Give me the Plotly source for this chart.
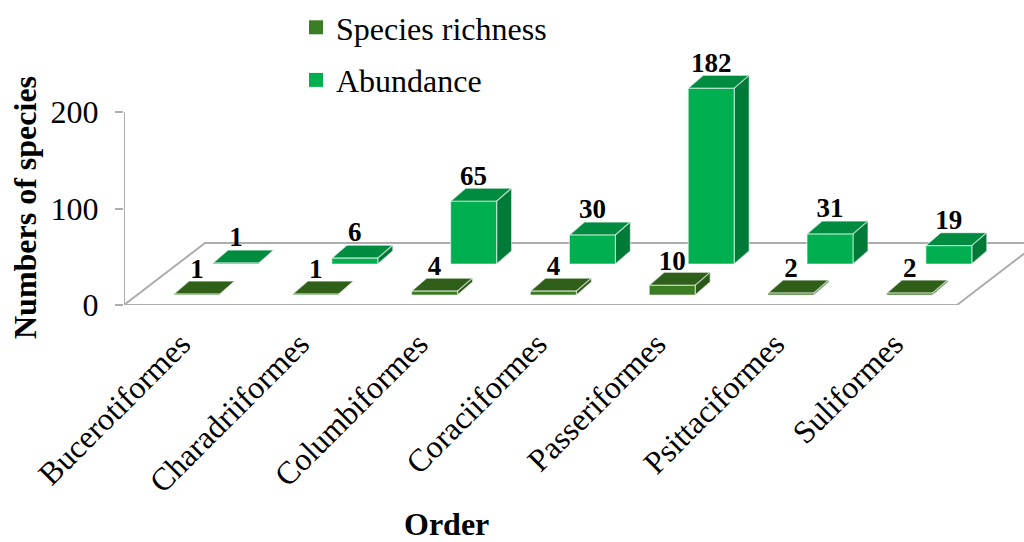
import plotly.graph_objects as go

# Bird orders and counts per order
orders = ["Bucerotiformes", "Charadriiformes", "Columbiformes", "Coraciiformes",
          "Passeriformes", "Psittaciformes", "Suliformes"]
species_richness = [1, 1, 4, 4, 10, 2, 2]
abundance = [1, 6, 65, 30, 182, 31, 19]
y_ticks = [0, 100, 200]

WIDTH, HEIGHT = 1024, 542
LEFT, TICK_TOP, RIGHT_EDGE, FLOOR_Y = 124, 112, 1024, 305
PLOT_TOP = 40
SERIF = "Liberation Serif"

# Conversion between pixels and axis units for the oblique projection
PX_PER_CAT = 118.8
FIRST_CAT_PX = 190.0
PX_PER_VAL = (FLOOR_Y - TICK_TOP) / 200.0
cx = lambda px: px / PX_PER_CAT
cy = lambda px: px / PX_PER_VAL

BAR_W = cx(46)
BAR_DX = cx(15)
BAR_DY = cy(13)
FLOOR_DX = cx(81)
FLOOR_DY = cy(62)
EDGE = "rgba(255,255,255,0.55)"
GRID = "#ADADAD"


def faces(values, x_offset, base):
    """Return front, side and top polygons for a row of oblique bars."""
    front_x, front_y, side_x, side_y, top_x, top_y = [], [], [], [], [], []
    for i, v in enumerate(values):
        x0 = i + x_offset
        x1 = x0 + BAR_W
        y0 = base
        y1 = base + v
        front_x += [x0, x1, x1, x0, x0, None]
        front_y += [y0, y0, y1, y1, y0, None]
        side_x += [x1, x1 + BAR_DX, x1 + BAR_DX, x1, x1, None]
        side_y += [y0, y0 + BAR_DY, y1 + BAR_DY, y1, y0, None]
        top_x += [x0, x1, x1 + BAR_DX, x0 + BAR_DX, x0, None]
        top_y += [y1, y1, y1 + BAR_DY, y1 + BAR_DY, y1, None]
    return (front_x, front_y), (side_x, side_y), (top_x, top_y)


def polygon(xy, color):
    return go.Scatter(x=xy[0], y=xy[1], mode="lines", fill="toself", fillcolor=color,
                      line=dict(color=EDGE, width=1.2), hoverinfo="skip",
                      showlegend=False, cliponaxis=False)


fig = go.Figure()

# Value axis line, chart floor and its back edge
x_left = cx(LEFT - FIRST_CAT_PX)
x_right = cx(957 - FIRST_CAT_PX)
fig.add_trace(go.Scatter(
    x=[x_left, x_left, x_left + FLOOR_DX, x_right + FLOOR_DX + 1, None, x_left, x_right, x_right + FLOOR_DX],
    y=[y_ticks[-1], 0, FLOOR_DY, FLOOR_DY, None, 0, 0, FLOOR_DY],
    mode="lines", line=dict(color=GRID, width=2), hoverinfo="skip",
    showlegend=False, cliponaxis=False))

rows = [
    (abundance, cx(23), cy(41), "#00B050", "#007A37", "#008C40", cy(10.5)),
    (species_richness, cx(-16), cy(10), "#3B7D23", "#2A5A17", "#2F5F18", cy(9.5)),
]
for values, offset, base, c_front, c_side, c_top, label_gap in rows:
    front, side, top = faces(values, offset, base)
    fig.add_trace(polygon(top, c_top))
    fig.add_trace(polygon(side, c_side))
    fig.add_trace(polygon(front, c_front))
    # Value label above each bar
    fig.add_trace(go.Scatter(
        x=[i + offset + BAR_W / 2 for i in range(len(values))],
        y=[base + v + BAR_DY + label_gap for v in values],
        mode="text", text=[str(v) for v in values],
        textposition="middle center",
        textfont=dict(family=SERIF, size=27, color="black"),
        texttemplate="<b>%{text}</b>",
        hoverinfo="skip", showlegend=False, cliponaxis=False))

# Legend-only entries
for name, color, group in [("Species richness", "#3B7D23", "a"), ("Abundance", "#00B050", "b")]:
    fig.add_trace(go.Scatter(x=[None], y=[None], mode="markers", name=name, legendgroup=group,
                             marker=dict(symbol="square", size=14, color=color)))

plot_w, plot_h = RIGHT_EDGE - LEFT, FLOOR_Y - PLOT_TOP

fig.update_layout(
    width=WIDTH, height=HEIGHT,
    margin=dict(l=LEFT, r=WIDTH - RIGHT_EDGE, t=PLOT_TOP, b=HEIGHT - FLOOR_Y, autoexpand=False),
    paper_bgcolor="white", plot_bgcolor="rgba(0,0,0,0)",
    font=dict(family=SERIF, color="black"),
    legend=dict(x=296 / WIDTH, y=1 + 1 / HEIGHT, xref="container", yref="container",
                xanchor="left", yanchor="top", bgcolor="rgba(0,0,0,0)",
                font=dict(family=SERIF, size=32), tracegroupgap=8, itemwidth=30),
    xaxis=dict(
        range=[cx(LEFT - FIRST_CAT_PX), cx(RIGHT_EDGE - FIRST_CAT_PX)],
        tickmode="array", tickvals=[i + cx(-9) for i in range(len(orders))], ticktext=orders,
        tickangle=-45, tickfont=dict(family=SERIF, size=32), ticks="",
        ticklabelstandoff=13, showline=False, showgrid=False, zeroline=False),
    yaxis=dict(
        range=[0, (FLOOR_Y - PLOT_TOP) / PX_PER_VAL], tickmode="array", tickvals=y_ticks,
        tickfont=dict(family=SERIF, size=32), ticks="outside", ticklen=8, tickwidth=2,
        tickcolor=GRID, showline=False,
        ticklabelstandoff=10, showgrid=False, zeroline=False),
    annotations=[
        dict(text="<b>Order</b>", x=(446 - LEFT) / plot_w, y=(FLOOR_Y - 524) / plot_h,
             xref="paper", yref="paper", xanchor="center", yanchor="middle", showarrow=False,
             font=dict(family=SERIF, size=32)),
        dict(text="<b>Numbers of species</b>", x=(25 - LEFT) / plot_w, y=(FLOOR_Y - 208) / plot_h,
             xref="paper", yref="paper", xanchor="center", yanchor="middle", showarrow=False,
             textangle=-90, font=dict(family=SERIF, size=32)),
    ],
)

fig.write_html("out.html")
